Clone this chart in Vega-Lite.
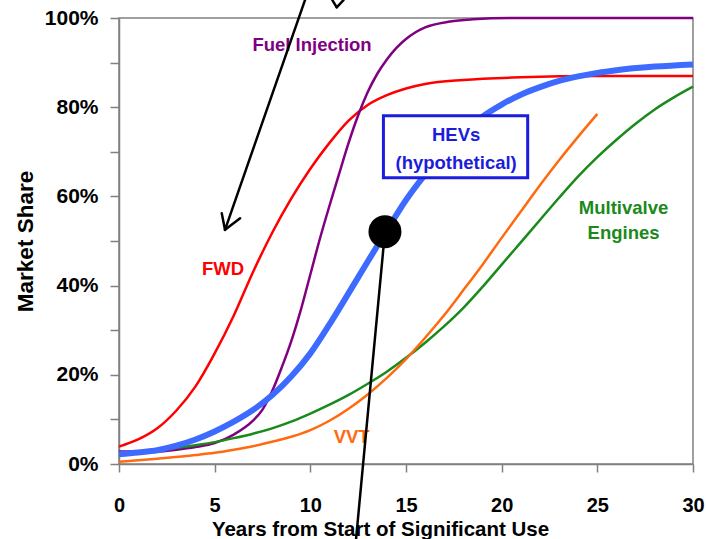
{
  "$schema": "https://vega.github.io/schema/vega-lite/v6.json",
  "width": 574,
  "height": 446,
  "autosize": "none",
  "padding": {"left": 119, "top": 18, "right": 13, "bottom": 75},
  "background": "white",
  "config": {
    "view": {"stroke": "#808080", "strokeWidth": 1.5},
    "font": "Liberation Sans"
  },
  "datasets": {
    "curves": [
      {"series": "FWD", "x": 0, "y": 0.039},
      {"series": "FWD", "x": 1, "y": 0.055},
      {"series": "FWD", "x": 2, "y": 0.08},
      {"series": "FWD", "x": 3, "y": 0.12},
      {"series": "FWD", "x": 4, "y": 0.174},
      {"series": "FWD", "x": 5, "y": 0.248},
      {"series": "FWD", "x": 6, "y": 0.333},
      {"series": "FWD", "x": 7, "y": 0.43},
      {"series": "FWD", "x": 8, "y": 0.518},
      {"series": "FWD", "x": 9, "y": 0.595},
      {"series": "FWD", "x": 10, "y": 0.662},
      {"series": "FWD", "x": 11, "y": 0.72},
      {"series": "FWD", "x": 12, "y": 0.77},
      {"series": "FWD", "x": 13, "y": 0.805},
      {"series": "FWD", "x": 14, "y": 0.827},
      {"series": "FWD", "x": 15, "y": 0.842},
      {"series": "FWD", "x": 16, "y": 0.852},
      {"series": "FWD", "x": 18, "y": 0.861},
      {"series": "FWD", "x": 21, "y": 0.867},
      {"series": "FWD", "x": 25, "y": 0.87},
      {"series": "FWD", "x": 30, "y": 0.87},
      {"series": "Fuel Injection", "x": 0, "y": 0.028},
      {"series": "Fuel Injection", "x": 2, "y": 0.028},
      {"series": "Fuel Injection", "x": 3, "y": 0.032},
      {"series": "Fuel Injection", "x": 4, "y": 0.038},
      {"series": "Fuel Injection", "x": 5, "y": 0.047},
      {"series": "Fuel Injection", "x": 6, "y": 0.066},
      {"series": "Fuel Injection", "x": 7, "y": 0.097},
      {"series": "Fuel Injection", "x": 7.5, "y": 0.122},
      {"series": "Fuel Injection", "x": 8, "y": 0.163},
      {"series": "Fuel Injection", "x": 8.5, "y": 0.216},
      {"series": "Fuel Injection", "x": 9, "y": 0.275},
      {"series": "Fuel Injection", "x": 9.5, "y": 0.345},
      {"series": "Fuel Injection", "x": 10, "y": 0.425},
      {"series": "Fuel Injection", "x": 10.5, "y": 0.505},
      {"series": "Fuel Injection", "x": 11, "y": 0.579},
      {"series": "Fuel Injection", "x": 11.5, "y": 0.65},
      {"series": "Fuel Injection", "x": 12, "y": 0.72},
      {"series": "Fuel Injection", "x": 12.5, "y": 0.782},
      {"series": "Fuel Injection", "x": 13, "y": 0.834},
      {"series": "Fuel Injection", "x": 13.5, "y": 0.875},
      {"series": "Fuel Injection", "x": 14, "y": 0.907},
      {"series": "Fuel Injection", "x": 14.5, "y": 0.933},
      {"series": "Fuel Injection", "x": 15, "y": 0.953},
      {"series": "Fuel Injection", "x": 15.5, "y": 0.968},
      {"series": "Fuel Injection", "x": 16, "y": 0.979},
      {"series": "Fuel Injection", "x": 17.3, "y": 0.992},
      {"series": "Fuel Injection", "x": 18.5, "y": 0.997},
      {"series": "Fuel Injection", "x": 20.5, "y": 1.0},
      {"series": "Fuel Injection", "x": 30, "y": 1.0},
      {"series": "HEVs", "x": 0, "y": 0.022},
      {"series": "HEVs", "x": 1, "y": 0.026},
      {"series": "HEVs", "x": 2, "y": 0.031},
      {"series": "HEVs", "x": 3, "y": 0.041},
      {"series": "HEVs", "x": 4, "y": 0.055},
      {"series": "HEVs", "x": 5, "y": 0.073},
      {"series": "HEVs", "x": 6, "y": 0.095},
      {"series": "HEVs", "x": 7, "y": 0.121},
      {"series": "HEVs", "x": 8, "y": 0.154},
      {"series": "HEVs", "x": 9, "y": 0.196},
      {"series": "HEVs", "x": 10, "y": 0.248},
      {"series": "HEVs", "x": 11, "y": 0.313},
      {"series": "HEVs", "x": 12, "y": 0.383},
      {"series": "HEVs", "x": 13, "y": 0.454},
      {"series": "HEVs", "x": 14, "y": 0.524},
      {"series": "HEVs", "x": 15, "y": 0.592},
      {"series": "HEVs", "x": 16, "y": 0.649},
      {"series": "HEVs", "x": 17, "y": 0.698},
      {"series": "HEVs", "x": 18, "y": 0.743},
      {"series": "HEVs", "x": 19, "y": 0.779},
      {"series": "HEVs", "x": 20, "y": 0.806},
      {"series": "HEVs", "x": 21, "y": 0.828},
      {"series": "HEVs", "x": 22, "y": 0.845},
      {"series": "HEVs", "x": 23, "y": 0.859},
      {"series": "HEVs", "x": 24, "y": 0.869},
      {"series": "HEVs", "x": 25, "y": 0.877},
      {"series": "HEVs", "x": 26, "y": 0.883},
      {"series": "HEVs", "x": 28, "y": 0.891},
      {"series": "HEVs", "x": 30, "y": 0.896},
      {"series": "Multivalve Engines", "x": 0, "y": 0.02},
      {"series": "Multivalve Engines", "x": 2, "y": 0.03},
      {"series": "Multivalve Engines", "x": 4, "y": 0.042},
      {"series": "Multivalve Engines", "x": 5, "y": 0.049},
      {"series": "Multivalve Engines", "x": 6, "y": 0.058},
      {"series": "Multivalve Engines", "x": 7, "y": 0.068},
      {"series": "Multivalve Engines", "x": 8, "y": 0.08},
      {"series": "Multivalve Engines", "x": 9, "y": 0.095},
      {"series": "Multivalve Engines", "x": 10, "y": 0.113},
      {"series": "Multivalve Engines", "x": 11, "y": 0.133},
      {"series": "Multivalve Engines", "x": 12, "y": 0.155},
      {"series": "Multivalve Engines", "x": 13, "y": 0.18},
      {"series": "Multivalve Engines", "x": 14, "y": 0.207},
      {"series": "Multivalve Engines", "x": 15, "y": 0.238},
      {"series": "Multivalve Engines", "x": 16, "y": 0.272},
      {"series": "Multivalve Engines", "x": 17, "y": 0.309},
      {"series": "Multivalve Engines", "x": 18, "y": 0.35},
      {"series": "Multivalve Engines", "x": 19, "y": 0.397},
      {"series": "Multivalve Engines", "x": 20, "y": 0.447},
      {"series": "Multivalve Engines", "x": 21, "y": 0.497},
      {"series": "Multivalve Engines", "x": 22, "y": 0.547},
      {"series": "Multivalve Engines", "x": 23, "y": 0.597},
      {"series": "Multivalve Engines", "x": 24, "y": 0.645},
      {"series": "Multivalve Engines", "x": 25, "y": 0.688},
      {"series": "Multivalve Engines", "x": 26, "y": 0.727},
      {"series": "Multivalve Engines", "x": 27, "y": 0.763},
      {"series": "Multivalve Engines", "x": 28, "y": 0.795},
      {"series": "Multivalve Engines", "x": 29, "y": 0.822},
      {"series": "Multivalve Engines", "x": 30, "y": 0.846},
      {"series": "VVT", "x": 0, "y": 0.005},
      {"series": "VVT", "x": 2, "y": 0.012},
      {"series": "VVT", "x": 4, "y": 0.02},
      {"series": "VVT", "x": 5, "y": 0.025},
      {"series": "VVT", "x": 6, "y": 0.032},
      {"series": "VVT", "x": 7, "y": 0.04},
      {"series": "VVT", "x": 8, "y": 0.05},
      {"series": "VVT", "x": 9, "y": 0.061},
      {"series": "VVT", "x": 10, "y": 0.076},
      {"series": "VVT", "x": 11, "y": 0.097},
      {"series": "VVT", "x": 12, "y": 0.124},
      {"series": "VVT", "x": 13, "y": 0.156},
      {"series": "VVT", "x": 14, "y": 0.193},
      {"series": "VVT", "x": 15, "y": 0.235},
      {"series": "VVT", "x": 16, "y": 0.283},
      {"series": "VVT", "x": 17, "y": 0.334},
      {"series": "VVT", "x": 18, "y": 0.39},
      {"series": "VVT", "x": 19, "y": 0.447},
      {"series": "VVT", "x": 20, "y": 0.507},
      {"series": "VVT", "x": 21, "y": 0.566},
      {"series": "VVT", "x": 22, "y": 0.625},
      {"series": "VVT", "x": 23, "y": 0.681},
      {"series": "VVT", "x": 24, "y": 0.734},
      {"series": "VVT", "x": 25, "y": 0.785}
    ],
    "labels": [
      {"series": "Fuel Injection", "text": "Fuel Injection", "x": 10.09, "y": 0.926},
      {"series": "FWD", "text": "FWD", "x": 5.44, "y": 0.424},
      {"series": "HEVs (hypothetical)", "text": "HEVs", "x": 17.62, "y": 0.724},
      {"series": "HEVs (hypothetical)", "text": "(hypothetical)", "x": 17.62, "y": 0.661},
      {"series": "Multivalve Engines", "text": "Multivalve", "x": 26.37, "y": 0.5605},
      {"series": "Multivalve Engines", "text": "Engines", "x": 26.37, "y": 0.504},
      {"series": "VVT", "text": "VVT", "x": 12.16, "y": 0.046}
    ],
    "box": [
      {"x": 13.82, "x2": 21.36, "y": 0.781, "y2": 0.642}
    ],
    "dot": [
      {"x": 13.9, "y": 0.521}
    ],
    "pointers": [
      {"x": 9.72, "y": 1.04, "x2": 5.54, "y2": 0.525},
      {"x": 5.37, "y": 0.562, "x2": 5.54, "y2": 0.525},
      {"x": 6.33, "y": 0.551, "x2": 5.54, "y2": 0.525},
      {"x": 11.15, "y": 1.04, "x2": 11.38, "y2": 1.024},
      {"x": 11.73, "y": 1.04, "x2": 11.38, "y2": 1.024},
      {"x": 13.9, "y": 0.521, "x2": 12.39, "y2": -0.168}
    ]
  },
  "layer": [
    {
      "data": {"name": "curves"},
      "transform": [{"filter": "datum.series !== 'HEVs'"}],
      "mark": {"type": "line", "interpolate": "monotone", "strokeWidth": 2.5},
      "encoding": {
        "x": {
          "field": "x", "type": "quantitative",
          "scale": {"domain": [0, 30], "nice": false, "zero": false},
          "axis": {
            "values": [0, 5, 10, 15, 20, 25, 30],
            "grid": false,
            "domainColor": "#808080", "domainWidth": 1.5,
            "tickColor": "#808080", "tickWidth": 1.5, "tickSize": 8,
            "labelFont": "Liberation Sans", "labelFontWeight": "bold", "labelFontSize": 20,
            "labelColor": "black", "labelPadding": 23, "labelFlush": false, "labelOverlap": false,
            "title": "Years from Start of Significant Use",
            "titleFont": "Liberation Sans", "titleFontSize": 20.5, "titleFontWeight": "bold",
            "titleColor": "black", "titleX": 261, "titleY": 71, "titleBaseline": "alphabetic", "titleAlign": "center"
          }
        },
        "y": {
          "field": "y", "type": "quantitative",
          "scale": {"domain": [0, 1], "nice": false},
          "axis": {
            "values": [0, 0.1, 0.2, 0.3, 0.4, 0.5, 0.6, 0.7, 0.8, 0.9, 1],
            "format": ".0%",
            "labelExpr": "round(datum.value * 100) % 20 === 0 ? datum.label : ''",
            "grid": false,
            "domainColor": "#808080", "domainWidth": 1.5,
            "tickColor": "#808080", "tickWidth": 1.5, "tickSize": 9,
            "labelFont": "Liberation Sans", "labelFontWeight": "bold", "labelFontSize": 21,
            "labelColor": "black", "labelPadding": 12, "labelFlush": false, "labelOverlap": false,
            "title": "Market Share",
            "titleFont": "Liberation Sans", "titleFontSize": 22.5, "titleFontWeight": "bold",
            "titleColor": "black", "titleX": -87, "titleY": 223, "titleAngle": -90,
            "titleBaseline": "alphabetic", "titleAlign": "center"
          }
        },
        "color": {
          "field": "series", "type": "nominal",
          "scale": {
            "domain": ["FWD", "Fuel Injection", "HEVs", "HEVs (hypothetical)", "Multivalve Engines", "VVT"],
            "range": ["#ff0000", "#800080", "#3d6bff", "#1c1cdc", "#1a8a1a", "#ff6a10"]
          },
          "legend": null
        },
        "detail": {"field": "series"}
      }
    },
    {
      "data": {"name": "curves"},
      "transform": [{"filter": "datum.series === 'HEVs'"}],
      "mark": {"type": "line", "interpolate": "monotone", "strokeWidth": 6},
      "encoding": {
        "x": {"field": "x", "type": "quantitative"},
        "y": {"field": "y", "type": "quantitative"},
        "color": {"field": "series", "type": "nominal", "legend": null}
      }
    },
    {
      "data": {"name": "box"},
      "mark": {"type": "rect", "fill": "white", "stroke": "#1c1cdc", "strokeWidth": 3},
      "encoding": {
        "x": {"field": "x", "type": "quantitative"},
        "x2": {"field": "x2"},
        "y": {"field": "y", "type": "quantitative"},
        "y2": {"field": "y2"}
      }
    },
    {
      "data": {"name": "labels"},
      "mark": {"type": "text", "font": "Liberation Sans", "fontWeight": "bold", "fontSize": 18.5, "align": "center", "baseline": "alphabetic"},
      "encoding": {
        "x": {"field": "x", "type": "quantitative"},
        "y": {"field": "y", "type": "quantitative"},
        "text": {"field": "text"},
        "color": {"field": "series", "type": "nominal", "legend": null}
      }
    },
    {
      "data": {"name": "pointers"},
      "mark": {"type": "rule", "color": "black", "strokeWidth": 2.5, "clip": false, "strokeCap": "round"},
      "encoding": {
        "x": {"field": "x", "type": "quantitative"},
        "y": {"field": "y", "type": "quantitative"},
        "x2": {"field": "x2"},
        "y2": {"field": "y2"}
      }
    },
    {
      "data": {"name": "dot"},
      "mark": {"type": "point", "shape": "circle", "filled": true, "color": "black", "size": 1089, "opacity": 1},
      "encoding": {
        "x": {"field": "x", "type": "quantitative"},
        "y": {"field": "y", "type": "quantitative"}
      }
    }
  ]
}
